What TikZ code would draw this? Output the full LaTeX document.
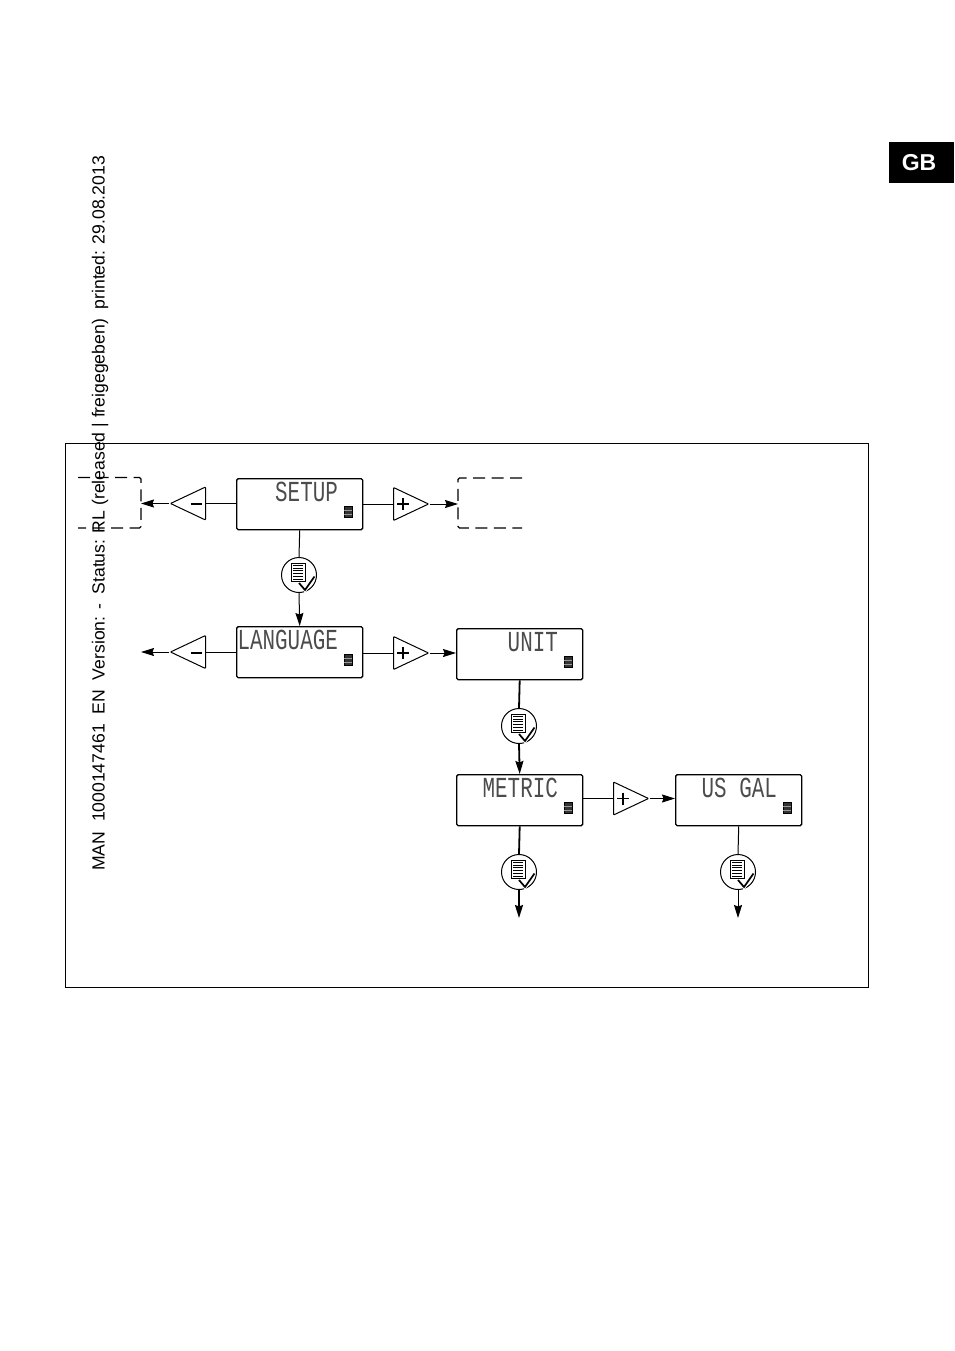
\documentclass[tikz,border=0pt]{standalone}
\usepackage{fontspec}
\setmainfont{Liberation Sans}
\newfontfamily\lcdfont{Liberation Mono}
\usetikzlibrary{arrows.meta,shapes.geometric}
\tikzset{
    lcdbox/.style={draw, line width=1.4pt, rounded corners=1.5pt, minimum width=126pt, minimum height=51pt, inner sep=0pt, anchor=north west},
    lcdtext/.style={anchor=base east, inner sep=0pt, xscale=0.72, text=black!70, font=\lcdfont\fontsize{29}{29}\selectfont},
    plusbtn/.style={draw, line width=1pt, isosceles triangle, isosceles triangle stretches, minimum height=35pt, minimum width=33pt, inner sep=0pt, rounded corners=0.8pt, anchor=lower side},
    minusbtn/.style={plusbtn, shape border rotate=180},
    okbtn/.style={draw, line width=1pt, circle, minimum size=35pt, inner sep=0pt},
    link/.style={line width=1pt},
    linkto/.style={link, -{Stealth[length=13pt,width=8pt,inset=1.5pt]}},
    heavy/.style={line width=1.8pt},
    dashbox/.style={line width=1.3pt, dash pattern=on 12pt off 6.5pt}
}
\newcommand{\lcdpanel}[4]{
    \node[lcdbox] (#1) at (#2,#3) {};
    \node[lcdtext] (#1text) at (#2+102,#3+23) {#4};
    \node[draw, fill=black!80, line width=0.6pt, minimum width=8pt, minimum height=11pt, inner sep=0pt] (#1bat) at (#2+112,#3+34) {};
    \foreach \i in {-1.8,1.8}
        \draw[black!40, line width=0.6pt] ([yshift=\i pt]#1bat.west) -- ([yshift=\i pt]#1bat.east);
}
\begin{document}
\begin{tikzpicture}[x=1pt, y=-1pt]
    \useasboundingbox (0,0) rectangle (954,1351);

    % tab and frame
    \node[fill=black, text=white, minimum width=65pt, minimum height=41pt, inner sep=0pt] (tab) at (921.5,162.5) {};
    \node[text=white, inner sep=0pt, font=\bfseries\fontsize{23}{23}\selectfont] (tabtext) at (919,163) {GB};
    \draw[line width=0.8pt] (65.5,443.5) rectangle (868.5,987.5);

    % displays
    \lcdpanel{setup}{236}{478}{SETUP}
    \lcdpanel{language}{236}{626}{LANGUAGE}
    \lcdpanel{unit}{456}{628}{UNIT}
    \lcdpanel{metric}{456}{774}{METRIC}
    \lcdpanel{usgal}{675}{774}{US GAL}

    % buttons
    \node[minusbtn] (minusa) at (206,503.5) {};
    \node[minusbtn] (minusb) at (206,652) {};
    \node[plusbtn] (plusa) at (393,504) {};
    \node[plusbtn] (plusb) at (393,653) {};
    \node[plusbtn] (plusc) at (613,798.5) {};
    \foreach \xx/\yy in {196/504, 196/653}
        \draw[line width=2pt] (\xx-5.5,\yy) -- (\xx+5.5,\yy);
    \foreach \xx/\yy in {403/504, 403/653, 623/798.5} {
        \draw[line width=1.4pt] (\xx-6,\yy) -- (\xx+6,\yy);
        \draw[line width=1.4pt] (\xx,\yy-6) -- (\xx,\yy+6);
    }

    \node[okbtn] (oka) at (299,575) {};
    \node[okbtn] (okb) at (519,726) {};
    \node[okbtn] (okc) at (519,872) {};
    \node[okbtn] (okd) at (738,872) {};
    \foreach \btn in {oka,okb,okc,okd} {
        \begin{scope}[shift={(\btn.center)}]
            \draw[line width=1pt] (-8,-12) rectangle (6,6);
            \foreach \i in {0,...,5}
                \draw[line width=0.9pt] (-6,-9.5+2.7*\i) -- (4,-9.5+2.7*\i);
            \draw[white, line width=3.5pt] (1,8) -- (6,15) -- (14,4);
            \draw[line width=1.7pt] (0,8) -- (6,15) -- (15.5,1.5);
        \end{scope}
    }

    % dashed neighbours
    \coordinate (lefttarget) at (141,503.5);
    \coordinate (righttarget) at (458,504);
    \coordinate (leftend) at (141,652);
    \coordinate (endc) at (519,918);
    \coordinate (endd) at (738,918);
    \draw[dashbox, rounded corners=1.5pt] (78,477.5) -- (141,477.5) -- (141,528) -- (78,528);
    \draw[dashbox, rounded corners=1.5pt] (522,478) -- (458,478) -- (458,528) -- (522,528);

    % connectors
    \draw[link] (setup.west |- minusa.lower side) -- (minusa.lower side);
    \draw[linkto] (minusa.apex) -- (lefttarget);
    \draw[link] (setup.east |- plusa.lower side) -- (plusa.lower side);
    \draw[linkto] (plusa.apex) -- (righttarget);
    \draw[link] (setup.south) -- (oka.north);
    \draw[linkto] (oka.south) -- (language.north);
    \draw[link] (language.west |- minusb.lower side) -- (minusb.lower side);
    \draw[linkto] (minusb.apex) -- (leftend);
    \draw[link] (language.east |- plusb.lower side) -- (plusb.lower side);
    \draw[linkto] (plusb.apex) -- (plusb.apex -| unit.west);
    \draw[link, heavy] (unit.south) -- (okb.north);
    \draw[linkto, heavy] (okb.south) -- (metric.north);
    \draw[link] (metric.east |- plusc.lower side) -- (plusc.lower side);
    \draw[linkto] (plusc.apex) -- (plusc.apex -| usgal.west);
    \draw[link, heavy] (metric.south) -- (okc.north);
    \draw[linkto, heavy] (okc.south) -- (endc);
    \draw[link] (usgal.south) -- (okd.north);
    \draw[linkto] (okd.south) -- (endd);

    % margin note
    \node[rotate=90, anchor=west, inner sep=0pt, font=\fontsize{17.6}{17.6}\selectfont] (note) at (100,871)
        {MAN\ \ 1000147461\ \ EN\ \ Version: -\ \ Status: RL (released | freigegeben)\ \ printed: 29.08.2013};
\end{tikzpicture}
\end{document}
